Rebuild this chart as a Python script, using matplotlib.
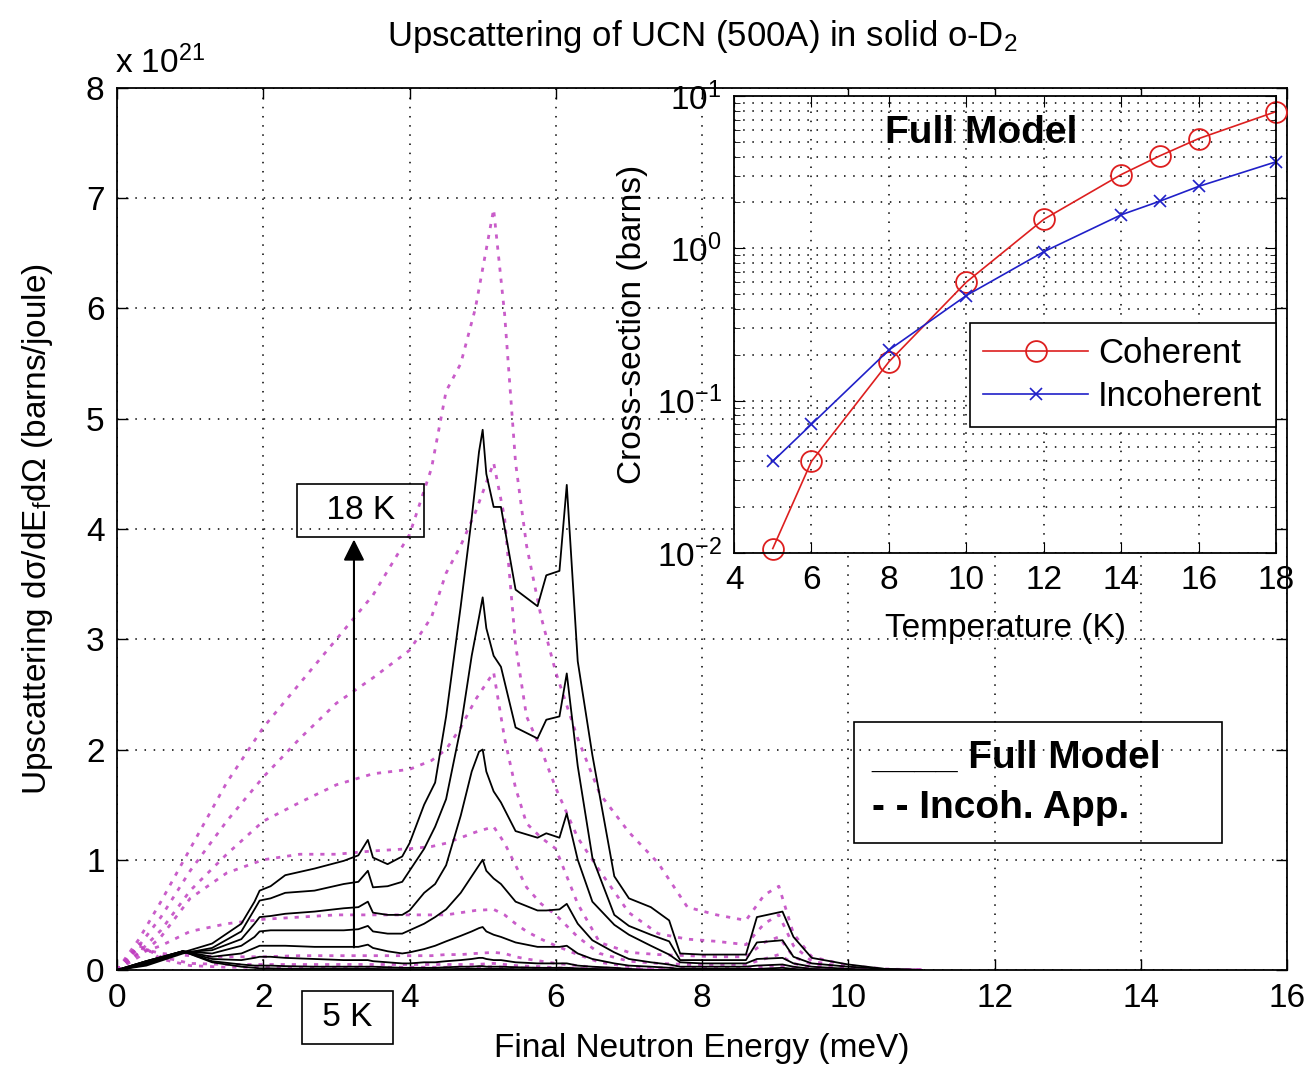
import matplotlib
matplotlib.use("Agg")
import matplotlib.pyplot as plt

plt.rcParams['font.family'] = ['Liberation Sans', 'DejaVu Sans']
plt.rcParams['mathtext.default'] = 'regular'
plt.rcParams['font.size'] = 24

# ---- main panel: upscattering spectra (units of 1e21 barns/joule) ----
temps_main = [18, 16, 14, 12, 10, 8, 6, 5]

# energy grid of the full-model curves (meV)
energy_full = [0, 0.4, 0.9, 1.3, 1.7, 1.88, 1.95, 2.1, 2.3, 2.7, 3.1, 3.3, 3.43, 3.5, 3.7, 3.9,
               4.0, 4.2, 4.35, 4.5, 4.7, 4.85, 4.95, 5.0, 5.05, 5.15, 5.25, 5.45, 5.75, 5.87,
               6.05, 6.15, 6.3, 6.5, 6.8, 7.0, 7.3, 7.55, 7.7, 8.0, 8.6, 8.75, 9.1, 9.25, 9.5,
               10.0, 10.5, 11.0]

full_18 = [0, 0.05, 0.16, 0.24, 0.42, 0.62, 0.72, 0.76, 0.86, 0.92, 0.99, 1.04, 1.18, 1.02, 0.96, 1.03,
           1.15, 1.5, 1.7, 2.3, 3.3, 4.1, 4.7, 4.9, 4.5, 4.2, 4.2, 3.45, 3.3, 3.58,
           3.62, 4.4, 2.8, 1.95, 0.85, 0.65, 0.57, 0.45, 0.15, 0.14, 0.14, 0.48, 0.53, 0.3, 0.11,
           0.05, 0.01, 0]
full_16 = [0, 0.04, 0.15, 0.2, 0.35, 0.55, 0.63, 0.65, 0.7, 0.72, 0.78, 0.8, 0.9, 0.75, 0.76, 0.8,
           0.9, 1.1, 1.3, 1.55, 2.2, 2.85, 3.2, 3.38, 3.1, 2.85, 2.75, 2.2, 2.1, 2.27,
           2.3, 2.69, 1.85, 1.02, 0.5, 0.4, 0.32, 0.26, 0.09, 0.09, 0.09, 0.25, 0.27, 0.12, 0.06,
           0.03, 0.01, 0]
full_14 = [0, 0.05, 0.16, 0.18, 0.28, 0.42, 0.48, 0.49, 0.51, 0.53, 0.56, 0.57, 0.62, 0.52, 0.5, 0.5,
           0.54, 0.7, 0.78, 0.95, 1.4, 1.8, 1.98, 2.0, 1.8, 1.62, 1.52, 1.26, 1.2, 1.24,
           1.2, 1.42, 1.0, 0.62, 0.41, 0.32, 0.22, 0.14, 0.07, 0.06, 0.06, 0.1, 0.11, 0.06, 0.03,
           0.01, 0, 0]
full_12 = [0, 0.06, 0.17, 0.15, 0.22, 0.3, 0.35, 0.36, 0.36, 0.36, 0.36, 0.37, 0.4, 0.35, 0.33, 0.33,
           0.36, 0.42, 0.48, 0.55, 0.7, 0.85, 0.95, 1.0, 0.9, 0.83, 0.78, 0.62, 0.54, 0.54,
           0.55, 0.6, 0.42, 0.27, 0.16, 0.1, 0.07, 0.05, 0.03, 0.03, 0.03, 0.04, 0.05, 0.03, 0.01,
           0, 0, 0]
full_10 = [0, 0.07, 0.17, 0.12, 0.15, 0.2, 0.22, 0.22, 0.22, 0.21, 0.21, 0.21, 0.23, 0.2, 0.17, 0.15,
           0.16, 0.19, 0.22, 0.26, 0.31, 0.35, 0.38, 0.39, 0.35, 0.32, 0.3, 0.25, 0.21, 0.21,
           0.21, 0.22, 0.15, 0.1, 0.06, 0.04, 0.03, 0.02, 0.01, 0.01, 0.01, 0.01, 0.02, 0.01, 0,
           0, 0, 0]
full_8 = [0, 0.08, 0.17, 0.1, 0.09, 0.11, 0.12, 0.12, 0.11, 0.1, 0.09, 0.09, 0.09, 0.08, 0.07, 0.06,
          0.06, 0.07, 0.07, 0.08, 0.09, 0.1, 0.11, 0.11, 0.1, 0.09, 0.09, 0.07, 0.06, 0.06,
          0.06, 0.06, 0.04, 0.03, 0.02, 0.01, 0, 0, 0, 0, 0, 0, 0, 0, 0,
          0, 0, 0]
full_6 = [0, 0.08, 0.17, 0.08, 0.05, 0.04, 0.04, 0.04, 0.035, 0.03, 0.03, 0.03, 0.03, 0.03, 0.025, 0.02,
          0.02, 0.02, 0.02, 0.025, 0.03, 0.03, 0.035, 0.035, 0.03, 0.03, 0.03, 0.025, 0.02, 0.02,
          0.02, 0.02, 0.015, 0.01, 0.005, 0, 0, 0, 0, 0, 0, 0, 0, 0, 0,
          0, 0, 0]
full_5 = [0, 0.08, 0.17, 0.07, 0.03, 0.02, 0.015, 0.015, 0.012, 0.01, 0.01, 0.01, 0.01, 0.01, 0.008, 0.007,
          0.007, 0.007, 0.008, 0.008, 0.01, 0.01, 0.012, 0.012, 0.01, 0.01, 0.01, 0.008, 0.007, 0.007,
          0.007, 0.007, 0.005, 0.003, 0.002, 0, 0, 0, 0, 0, 0, 0, 0, 0, 0,
          0, 0, 0]

# energy grid of the incoherent-approximation curves (meV)
energy_incoh = [0, 0.3, 0.6, 1.0, 1.5, 2.0, 2.5, 3.0, 3.5, 4.0, 4.3, 4.5, 4.7, 4.9, 5.15, 5.3, 5.45,
                5.6, 5.8, 6.0, 6.3, 6.6, 7.0, 7.4, 7.8, 8.2, 8.6, 8.85, 9.05, 9.25, 9.5, 10.0, 10.5, 11.0]

incoh_18 = [0, 0.28, 0.62, 1.1, 1.7, 2.2, 2.6, 3.0, 3.4, 3.95, 4.55, 5.25, 5.5, 6.0, 6.9, 5.95, 4.6,
            3.85, 3.2, 2.7, 2.1, 1.6, 1.25, 0.97, 0.57, 0.5, 0.45, 0.68, 0.76, 0.33, 0.12, 0.04, 0.01, 0]
incoh_16 = [0, 0.22, 0.48, 0.9, 1.35, 1.75, 2.1, 2.42, 2.65, 2.9, 3.2, 3.6, 3.85, 4.15, 4.6, 4.1, 2.95,
            2.3, 2.0, 1.65, 1.2, 0.9, 0.52, 0.33, 0.28, 0.26, 0.23, 0.42, 0.5, 0.22, 0.08, 0.02, 0.005, 0]
incoh_14 = [0, 0.16, 0.36, 0.72, 1.05, 1.35, 1.52, 1.68, 1.78, 1.82, 1.9, 2.0, 2.2, 2.45, 2.7, 2.1, 1.65,
            1.33, 1.2, 1.1, 0.6, 0.25, 0.16, 0.14, 0.13, 0.12, 0.12, 0.25, 0.3, 0.12, 0.05, 0.01, 0, 0]
incoh_12 = [0, 0.12, 0.3, 0.65, 0.88, 1.0, 1.05, 1.05, 1.08, 1.1, 1.12, 1.15, 1.2, 1.25, 1.3, 1.15, 0.95,
            0.75, 0.6, 0.5, 0.3, 0.15, 0.08, 0.06, 0.05, 0.05, 0.05, 0.1, 0.14, 0.06, 0.02, 0.005, 0, 0]
incoh_10 = [0, 0.15, 0.22, 0.35, 0.42, 0.46, 0.48, 0.5, 0.5, 0.5, 0.5, 0.5, 0.52, 0.54, 0.55, 0.5, 0.42,
            0.35, 0.28, 0.22, 0.14, 0.07, 0.03, 0.02, 0.02, 0.02, 0.02, 0.03, 0.04, 0.02, 0.01, 0, 0, 0]
incoh_8 = [0, 0.2, 0.15, 0.13, 0.12, 0.12, 0.13, 0.13, 0.13, 0.13, 0.13, 0.14, 0.14, 0.15, 0.16, 0.15, 0.12,
           0.1, 0.08, 0.06, 0.04, 0.02, 0.01, 0.005, 0, 0, 0, 0, 0, 0, 0, 0, 0, 0]
incoh_6 = [0, 0.22, 0.12, 0.06, 0.05, 0.05, 0.05, 0.05, 0.05, 0.05, 0.05, 0.05, 0.05, 0.05, 0.06, 0.05, 0.04,
           0.035, 0.03, 0.02, 0.015, 0.01, 0.005, 0, 0, 0, 0, 0, 0, 0, 0, 0, 0, 0]
incoh_5 = [0, 0.24, 0.1, 0.04, 0.025, 0.025, 0.025, 0.025, 0.025, 0.025, 0.025, 0.025, 0.025, 0.025, 0.03,
           0.025, 0.02, 0.018, 0.015, 0.01, 0.008, 0.005, 0.002, 0, 0, 0, 0, 0, 0, 0, 0, 0, 0, 0]

full_curves = [full_18, full_16, full_14, full_12, full_10, full_8, full_6, full_5]
incoh_curves = [incoh_18, incoh_16, incoh_14, incoh_12, incoh_10, incoh_8, incoh_6, incoh_5]

# ---- inset: total upscattering cross-section vs temperature ----
temps_inset = [5, 6, 8, 10, 12, 14, 15, 16, 18]
sigma_coherent = [0.0107, 0.04, 0.18, 0.6, 1.55, 3.05, 4.05, 5.25, 7.9]
sigma_incoherent = [0.04, 0.07, 0.215, 0.49, 0.95, 1.66, 2.04, 2.55, 3.7]

fig = plt.figure(figsize=(13.12, 10.69), dpi=100)
ax = fig.add_axes([0.0892, 0.0926, 0.8918, 0.8251])

for yi in incoh_curves:
    ax.plot(energy_incoh, yi, color='#c040c0', lw=2, linestyle=(0, (1.5, 2.5)), alpha=0.85)
for yf in full_curves:
    ax.plot(energy_full, yf, color='k', lw=1.3)

ax.set_xlim(0, 16)
ax.set_ylim(0, 8)
ax.set_xticks(range(0, 17, 2))
ax.set_yticks(range(0, 9))
ax.grid(True, color='k', linestyle=(0, (1, 5)), lw=1.1)
ax.tick_params(direction='in', top=True, right=True, length=8, width=1, labelsize=24, pad=9)
for s in ax.spines.values():
    s.set_linewidth(1.3)

ax.set_title('Upscattering of UCN (500A) in solid o-D$_2$', fontsize=25, pad=30)
ax.set_xlabel('Final Neutron Energy (meV)', fontsize=24, labelpad=14)
ax.set_ylabel('Upscattering d\u03c3/dE$_f$d\u03a9 (barns/joule)', fontsize=24, labelpad=22)
fig.text(0.088, 0.932, 'x 10$^{21}$', fontsize=24, ha='left', va='baseline')

# temperature arrow and labels
ax.annotate('', xy=(3.24, 3.93), xytext=(3.24, 0.18),
            arrowprops=dict(arrowstyle='-|>', color='k', lw=1.5, mutation_scale=32))
ax.text(3.33, 4.17, '  18 K  ', ha='center', va='center', fontsize=24,
        bbox=dict(boxstyle='square,pad=0.33', fc='none', ec='k', lw=1.2))
ax.text(3.15, -0.43, ' 5 K ', ha='center', va='center', fontsize=24, clip_on=False,
        bbox=dict(boxstyle='square,pad=0.33', fc='none', ec='k', lw=1.2))

ax.text(10.32, 1.7, '____ Full Model    \n- - Incoh. App.', ha='left', va='center',
        fontsize=28, fontweight='bold', linespacing=1.5,
        bbox=dict(boxstyle='square,pad=0.45', fc='none', ec='k', lw=1.2))

# ---- inset axes ----
ins = fig.add_axes([0.5595, 0.4827, 0.4131, 0.4275])
ins.semilogy(temps_inset, sigma_coherent, '-o', color='#dd1f1f', lw=1.2, ms=15,
             mfc='none', mew=1.3, clip_on=False, label='Coherent')
ins.semilogy(temps_inset, sigma_incoherent, '-x', color='#2020c8', lw=1.2, ms=9,
             mew=1.2, clip_on=False, label='Incoherent')
ins.set_xlim(4, 18)
ins.set_ylim(1e-2, 1e1)
ins.set_xticks(range(4, 19, 2))
ins.grid(True, which='major', axis='x', color='k', linestyle=(0, (1, 5)), lw=1.1)
ins.grid(True, which='both', axis='y', color='k', linestyle=(0, (1, 5)), lw=1.1)
ins.tick_params(which='both', direction='in', top=True, right=True, labelsize=24, pad=9)
ins.tick_params(which='major', length=8)
ins.tick_params(which='minor', length=4)
for s in ins.spines.values():
    s.set_linewidth(1.3)
ins.set_xlabel('Temperature (K)', fontsize=24, labelpad=12)
ins.set_ylabel('Cross-section (barns)', fontsize=24, labelpad=6)
ins.text(0.279, 0.918, 'Full Model', transform=ins.transAxes, fontsize=28,
         fontweight='bold', ha='left', va='center')
leg = ins.legend(loc='upper right', bbox_to_anchor=(1.0, 0.503), borderaxespad=0,
                 fontsize=25, handlelength=3.0, handletextpad=0.3, borderpad=0.4,
                 labelspacing=0.3, fancybox=False, framealpha=1, edgecolor='k')
leg.get_frame().set_linewidth(1.2)

fig.savefig('out.png', dpi=100)
